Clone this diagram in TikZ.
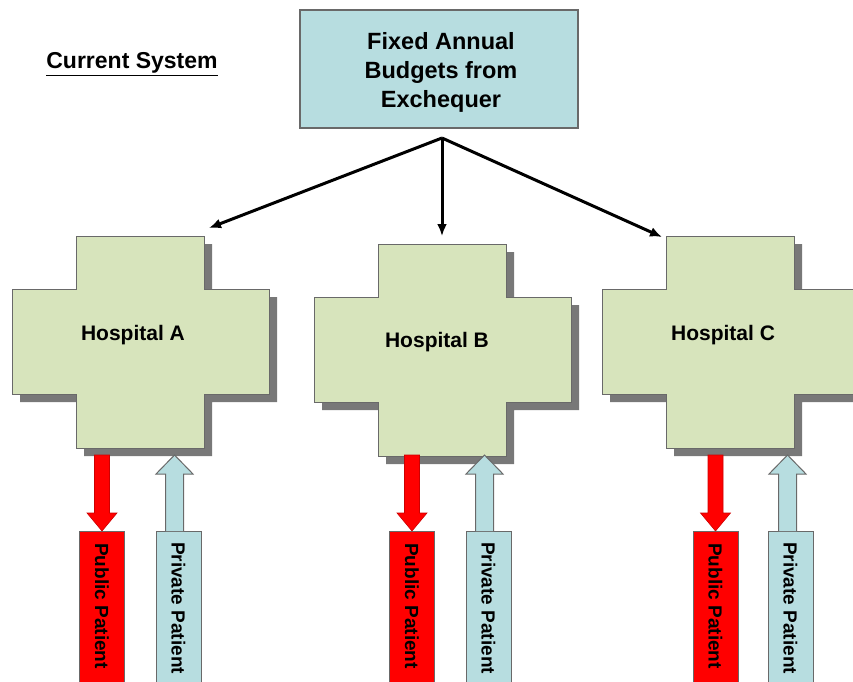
\documentclass[tikz,border=0pt]{standalone}
\usepackage{fontspec}
\setmainfont{Liberation Sans}
\usetikzlibrary{arrows.meta}
\definecolor{budgetBlue}{RGB}{183,221,224}
\definecolor{hospGreen}{RGB}{215,228,188}
\definecolor{edgeGray}{RGB}{105,105,105}
\definecolor{shadowGray}{RGB}{120,120,120}
\definecolor{publicRed}{RGB}{255,0,0}

\tikzset{
  budgetbox/.style={draw=edgeGray, line width=1.2pt, fill=budgetBlue, minimum width=278pt,
    minimum height=118pt, align=center, font=\fontsize{23.5}{29}\selectfont\bfseries},
  hosplabel/.style={font=\fontsize{21}{24}\selectfont\bfseries},
  patientlabel/.style={rotate=-90, font=\fontsize{19}{22}\selectfont\bfseries},
  fundarrow/.style={-{Latex[length=12pt,width=10pt]}, line width=3pt},
  barbox/.style={draw=edgeGray, line width=1pt, minimum width=45pt, minimum height=160pt,
    anchor=north, inner sep=0pt},
}

\begin{document}
\begin{tikzpicture}[x=1pt, y=-1pt]
  \useasboundingbox (0,0) rectangle (853,681);
  \clip (0,0) rectangle (853,681);

  % Title and budget
  \node[font=\fontsize{23}{26}\selectfont\bfseries] (title) at (132,64) {\underline{Current System}};
  \node[budgetbox] (budget) at (439,69) {};
  \node[font=\fontsize{23.5}{29}\selectfont\bfseries, align=center] (budgettext) at (441,72)
    {Fixed Annual\\Budgets from\\Exchequer};
  \coordinate (split) at (442,138);

  % Hospitals (cross with shadow)
  \foreach \xo/\yo in {12/236, 314/244, 602/236} {
    \fill[shadowGray, shift={(\xo+8,\yo+8)}] (64,0) -- (192,0) -- (192,53) -- (257,53) -- (257,158)
      -- (192,158) -- (192,212) -- (64,212) -- (64,158) -- (0,158) -- (0,53) -- (64,53) -- cycle;
    \filldraw[fill=hospGreen, draw=edgeGray, line width=1pt, shift={(\xo,\yo)}] (64,0) -- (192,0)
      -- (192,53) -- (257,53) -- (257,158) -- (192,158) -- (192,212) -- (64,212) -- (64,158)
      -- (0,158) -- (0,53) -- (64,53) -- cycle;
  }
  \node[hosplabel] (hospA) at (133,335) {Hospital A};
  \node[hosplabel] (hospB) at (437,342) {Hospital B};
  \node[hosplabel] (hospC) at (723,335) {Hospital C};

  % Funding arrows
  \coordinate (tipA) at (209,228);
  \coordinate (tipB) at (442,236);
  \coordinate (tipC) at (662,237);
  \draw[fundarrow] (split) -- (tipA);
  \draw[fundarrow] (split) -- (tipB);
  \draw[fundarrow] (split) -- (tipC);

  % Patient bars and block arrows
  \foreach \rx/\bx/\ax/\h in {102/178.5/174.5/A, 412/488.5/484.5/B, 715.5/790.5/787.5/C} {
    \node[barbox, fill=publicRed] (pub\h) at (\rx,531) {};
    \node[barbox, fill=budgetBlue] (priv\h) at (\bx,531) {};
    \node[patientlabel] at (\rx,606) {Public Patient};
    \node[patientlabel] at (\bx,608) {Private Patient};
    \filldraw[fill=publicRed, draw=publicRed!80!black, line width=0.6pt]
      (\rx-7.5,455) -- (\rx+7.5,455) -- (\rx+7.5,513) -- (\rx+15,513) -- (\rx,531)
      -- (\rx-15,513) -- (\rx-7.5,513) -- cycle;
    \filldraw[fill=budgetBlue, draw=edgeGray, line width=1pt]
      (\ax-9,531) -- (\ax-9,474) -- (\ax-18.5,474) -- (\ax,455) -- (\ax+18.5,474)
      -- (\ax+9,474) -- (\ax+9,531);
  }
\end{tikzpicture}
\end{document}
